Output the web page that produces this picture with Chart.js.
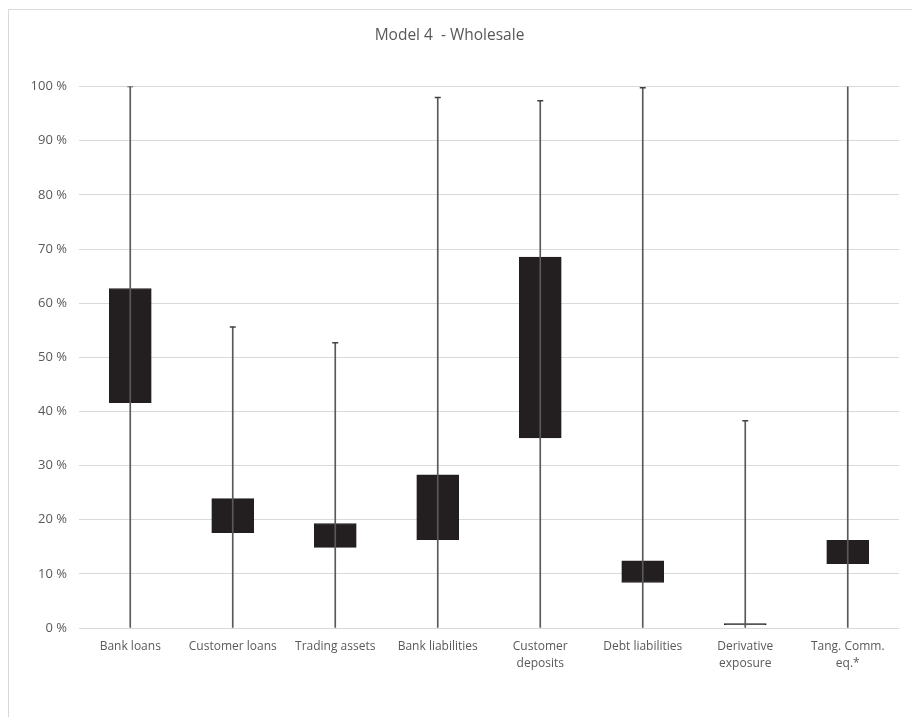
<!DOCTYPE html>
<html>
<head>
<meta charset="utf-8">
<script src="https://cdn.jsdelivr.net/npm/chart.js@4.4.1/dist/chart.umd.min.js"></script>
<style>
    html, body { margin: 0; padding: 0; background: #fff; overflow: hidden; }
    #frame { position: absolute; left: 8px; top: 9px; width: 930px; height: 730px; border: 1px solid #d9d9d9; }
    #chart { position: absolute; left: 0; top: 0; }
</style>
</head>
<body>
<div id="frame"></div>
<canvas id="chart" width="912" height="717"></canvas>
<script>
// Model 4 - Wholesale: min/max whiskers and inner boxes (%)
const categories = [
    'Bank loans',
    'Customer loans',
    'Trading assets',
    'Bank liabilities',
    ['Customer', 'deposits'],
    'Debt liabilities',
    ['Derivative', 'exposure'],
    ['Tang. Comm.', 'eq.*']
];
const whiskerMin = [0, 0, 0, 0, 0, 0, 0, 0];
const whiskerMax = [100, 55.6, 52.7, 98.0, 97.4, 99.8, 38.3, 104];
const boxLow = [41.6, 17.6, 14.9, 16.3, 35.1, 8.4, 0.6, 11.9];
const boxHigh = [62.7, 23.9, 19.3, 28.3, 68.5, 12.4, 0.8, 16.2];
const yTicks = [0, 10, 20, 30, 40, 50, 60, 70, 80, 90, 100];

const textColor = '#595959';
const fontFamily = "'Open Sans', 'Noto Sans', sans-serif";

const ctx = document.getElementById('chart');

new Chart(ctx, {
    type: 'bar',
    data: {
        labels: categories,
        datasets: [
            {
                label: 'Box',
                data: boxLow.map((lo, i) => [lo, boxHigh[i]]),
                backgroundColor: '#231f20',
                borderColor: '#231f20',
                borderWidth: 1,
                borderSkipped: false,
                barThickness: 42,
                grouped: false,
                order: 2
            },
            {
                label: 'Range',
                data: whiskerMin.map((lo, i) => [lo, whiskerMax[i]]),
                backgroundColor: '#595959',
                borderWidth: 0,
                barThickness: 1,
                grouped: false,
                order: 1
            },
            {
                type: 'line',
                label: 'Max',
                data: whiskerMax,
                showLine: false,
                pointStyle: 'line',
                pointRadius: 3,
                pointBorderWidth: 1.5,
                pointBorderColor: '#404040',
                pointBackgroundColor: '#404040',
                pointHoverRadius: 3,
                order: 0
            }
        ]
    },
    options: {
        responsive: false,
        animation: false,
        layout: {
            padding: { left: 0, right: 13, top: 0, bottom: 19 }
        },
        plugins: {
            legend: { display: false },
            tooltip: { enabled: false },
            title: {
                display: true,
                text: 'Model 4  - Wholesale',
                color: textColor,
                font: { family: fontFamily, size: 15.5, weight: 'normal' },
                padding: { top: 26, bottom: 42 }
            }
        },
        scales: {
            x: {
                grid: { display: false, drawTicks: false },
                border: { display: false },
                ticks: {
                    color: textColor,
                    font: { family: fontFamily, size: 12, lineHeight: 1.4 },
                    padding: 10,
                    maxRotation: 0,
                    autoSkip: false
                },
                afterFit: scale => { scale.height = 70; }
            },
            y: {
                min: 0,
                max: 100,
                afterBuildTicks: scale => { scale.ticks = yTicks.map(v => ({ value: v })); },
                grid: { color: '#d9d9d9', lineWidth: 1, drawTicks: false },
                border: { display: false },
                ticks: {
                    color: textColor,
                    font: { family: fontFamily, size: 13 },
                    padding: 12,
                    callback: value => `${value} %`
                },
                afterFit: scale => { scale.width = 79; }
            }
        }
    }
});
</script>
</body>
</html>
